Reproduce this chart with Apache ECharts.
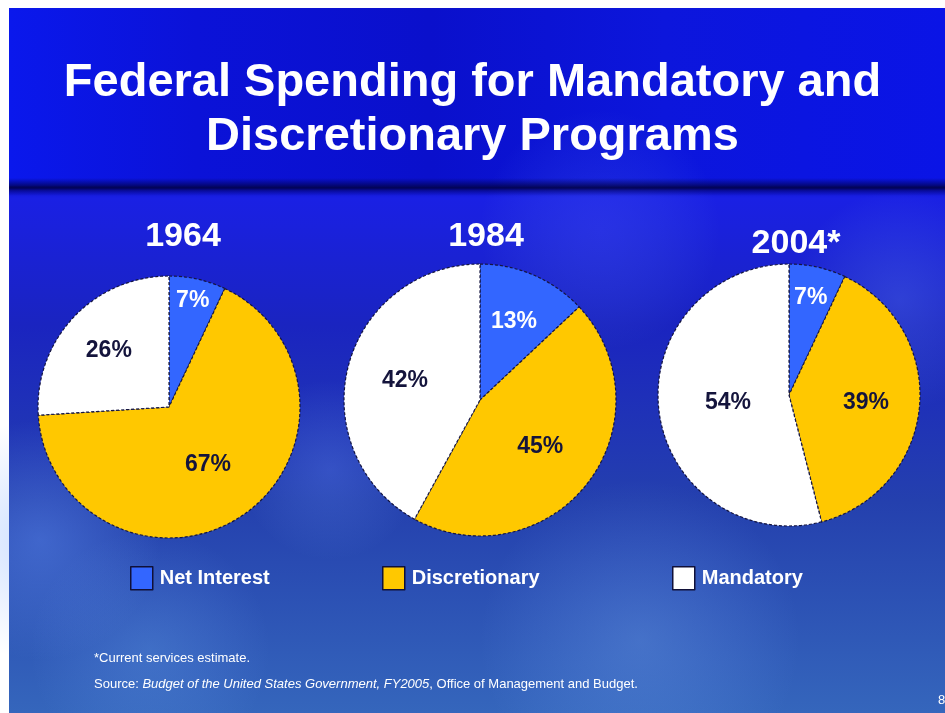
<!DOCTYPE html>
<html>
<head>
<meta charset="utf-8">
<script src="https://cdn.jsdelivr.net/npm/echarts@6/dist/echarts.min.js"></script>
<style>
html,body{margin:0;padding:0;background:#fff;}
#chart{width:945px;height:713px;}
</style>
</head>
<body>
<div id="chart"></div>
<script>
// ---- data ----
const categories = ['Net Interest', 'Discretionary', 'Mandatory'];
const years = ['1964', '1984', '2004*'];
const share1964 = [7, 67, 26];
const share1984 = [13, 45, 42];
const share2004 = [7, 39, 54];
const titleText = 'Federal Spending for Mandatory and\nDiscretionary Programs';
const footnote = '*Current services estimate.';
const sourceNote = 'Source: {i|Budget of the United States Government, FY2005}, Office of Management and Budget.';

// ---- layout / style ----
const shares = [share1964, share1984, share2004];
const pieCenters = [[169, 407], [480, 400], [789, 395]];
const pieRadii = [131, 136, 131];
const yearLabelPos = [[178, 232], [481, 232], [791, 239]];
const labelRatios = [[0.83, 0.53, 0.63], [0.63, 0.56, 0.57], [0.76, 0.59, 0.47]];
const sliceColors = ['#3366ff', '#ffc800', '#ffffff'];
const labelColors = ['#ffffff', '#14143c', '#14143c'];
const legendLeft = [130, 382, 672];
const FONT = 'Liberation Sans, Arial, sans-serif';
const SMALLFONT = 'Liberation Sans Narrow, Liberation Sans, Arial, sans-serif';

const chart = echarts.init(document.getElementById('chart'));

function pieSeries(k) {
  const vals = shares[k];
  const total = vals.reduce((a, b) => a + b, 0);
  const c = pieCenters[k], r = pieRadii[k];
  return {
    type: 'pie',
    center: c,
    radius: [0, r],
    startAngle: 90,
    clockwise: true,
    avoidLabelOverlap: false,
    silent: true,
    label: {
      show: true,
      position: 'inside',
      formatter: '{c}%',
      fontFamily: FONT,
      fontWeight: 'bold',
      fontSize: 23
    },
    labelLine: { show: false },
    labelLayout: function (p) {
      const i = p.dataIndex;
      let before = 0;
      for (let j = 0; j < i; j++) before += vals[j];
      const mid = (before + vals[i] / 2) / total * 2 * Math.PI;
      const rr = labelRatios[k][i] * r;
      return { x: c[0] + rr * Math.sin(mid), y: c[1] - rr * Math.cos(mid), align: 'center', verticalAlign: 'middle' };
    },
    itemStyle: { borderColor: '#161640', borderWidth: 1.2, borderType: [3, 2] },
    data: categories.map((name, i) => ({
      name: name,
      value: vals[i],
      itemStyle: { color: sliceColors[i] },
      label: { color: labelColors[i] }
    }))
  };
}

const titles = [
  {
    text: titleText,
    left: 'center',
    top: 51,
    textStyle: {
      color: '#ffffff',
      fontFamily: FONT,
      fontWeight: 'bold',
      fontSize: 47,
      lineHeight: 54
    }
  }
].concat(years.map((y, k) => ({
  text: y,
  left: yearLabelPos[k][0],
  top: yearLabelPos[k][1],
  textAlign: 'center',
  textVerticalAlign: 'middle',
  textStyle: {
    color: '#ffffff',
    fontFamily: FONT,
    fontWeight: 'bold',
    fontSize: 34
  }
}))).concat([
  {
    text: footnote,
    left: 94,
    top: 652,
    padding: 0,
    textStyle: { color: '#ffffff', fontFamily: SMALLFONT, fontWeight: 'normal', fontSize: 13 }
  },
  {
    text: sourceNote,
    left: 94,
    top: 678,
    padding: 0,
    textStyle: {
      color: '#ffffff', fontFamily: SMALLFONT, fontWeight: 'normal', fontSize: 13,
      rich: { i: { fontStyle: 'italic', color: '#ffffff', fontFamily: SMALLFONT, fontSize: 13 } }
    }
  },
  {
    text: '8',
    left: 938,
    top: 694,
    padding: 0,
    textStyle: { color: '#ffffff', fontFamily: FONT, fontWeight: 'normal', fontSize: 13 }
  }
]);

const legends = categories.map((name, i) => ({
  data: [{ name: name, itemStyle: { color: sliceColors[i], borderColor: '#101038', borderWidth: 1.5 } }],
  left: legendLeft[i],
  top: 566,
  padding: 0,
  icon: 'rect',
  itemWidth: 22,
  itemHeight: 23,
  itemGap: 8,
  selectedMode: false,
  textStyle: { color: '#ffffff', fontFamily: FONT, fontWeight: 'bold', fontSize: 20, padding: [0, 0, 0, 2] }
}));

function rg(cx, cy, r, col) {
  return {
    type: 'circle', silent: true, z: -9,
    shape: { cx: cx, cy: cy, r: r },
    style: { fill: new echarts.graphic.RadialGradient(0.5, 0.5, 0.5, [
      { offset: 0, color: col }, { offset: 1, color: 'rgba(120,170,255,0)' }
    ]) }
  };
}

const background = [
  { type: 'rect', silent: true, z: -10, shape: { x: 9, y: 8, width: 936, height: 705 },
    style: { fill: new echarts.graphic.LinearGradient(0, 0, 0, 1, [
      { offset: 0, color: '#0a14e4' },
      { offset: 0.25, color: '#0a10d0' },
      { offset: 0.27, color: '#1a20e4' },
      { offset: 0.45, color: '#1a24c0' },
      { offset: 0.7, color: '#2440ae' },
      { offset: 1, color: '#3566bc' }
    ]) } },
  // title band
  { type: 'rect', silent: true, z: -9, shape: { x: 9, y: 8, width: 936, height: 178 },
    style: { fill: new echarts.graphic.LinearGradient(0, 0, 1, 0, [
      { offset: 0, color: '#0a18ec' },
      { offset: 0.2, color: '#0b12d8' },
      { offset: 0.45, color: '#0a10cc' },
      { offset: 0.7, color: '#0c16dc' },
      { offset: 1, color: '#0a14e6' }
    ]) } },
  // dark shadow under the title band
  { type: 'rect', silent: true, z: -8, shape: { x: 9, y: 178, width: 936, height: 18 },
    style: { fill: new echarts.graphic.LinearGradient(0, 0, 0, 1, [
      { offset: 0, color: 'rgba(0,0,80,0)' },
      { offset: 0.55, color: 'rgba(0,0,60,0.85)' },
      { offset: 0.7, color: 'rgba(0,0,90,0.5)' },
      { offset: 1, color: 'rgba(0,0,120,0)' }
    ]) } },
  rg(40, 540, 120, 'rgba(110,160,255,0.35)'),
  rg(330, 470, 90, 'rgba(110,150,255,0.25)'),
  rg(640, 640, 160, 'rgba(120,170,240,0.30)'),
  rg(900, 300, 110, 'rgba(110,150,255,0.25)'),
  rg(600, 230, 120, 'rgba(90,110,255,0.22)'),
  rg(150, 650, 120, 'rgba(110,170,240,0.25)')
];

chart.setOption({
  backgroundColor: '#ffffff',
  animation: false,
  title: titles,
  legend: legends,
  graphic: background,
  series: [0, 1, 2].map(pieSeries)
});
</script>
</body>
</html>
